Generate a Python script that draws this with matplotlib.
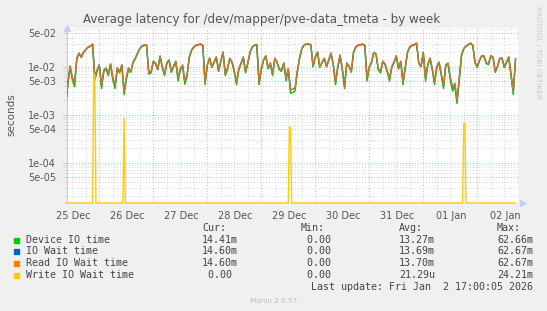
import numpy as np
import pandas as pd
import matplotlib
matplotlib.use("Agg")
import matplotlib.pyplot as plt
import matplotlib.dates as mdates
from matplotlib.ticker import FixedLocator, NullFormatter


# --------------------------------
# Data
# --------------------------------
# hourly samples starting at this time
sample_start = "2025-12-25 09:00"
sample_step = "1h"

device_io_time = [
    0.0014, 0.0040, 0.0100, 0.0053, 0.0038, 0.0145, 0.0188, 0.0155, 0.0197, 0.0224,
    0.0251, 0.0263, 0.0290, 0.0052, 0.0080, 0.0106, 0.0035, 0.0080, 0.0090, 0.0065,
    0.0110, 0.0052, 0.0035, 0.0091, 0.0074, 0.0106, 0.0026, 0.0052, 0.0090, 0.0076,
    0.0121, 0.0146, 0.0188, 0.0234, 0.0263, 0.0278, 0.0276, 0.0070, 0.0074, 0.0126,
    0.0115, 0.0086, 0.0162, 0.0096, 0.0065, 0.0116, 0.0134, 0.0076, 0.0099, 0.0126,
    0.0050, 0.0086, 0.0104, 0.0043, 0.0062, 0.0155, 0.0217, 0.0254, 0.0276, 0.0283,
    0.0290, 0.0273, 0.0042, 0.0106, 0.0147, 0.0096, 0.0121, 0.0155, 0.0080, 0.0126,
    0.0197, 0.0065, 0.0090, 0.0146, 0.0121, 0.0076, 0.0042, 0.0086, 0.0115, 0.0155,
    0.0074, 0.0116, 0.0197, 0.0254, 0.0276, 0.0283, 0.0042, 0.0086, 0.0134, 0.0165,
    0.0090, 0.0116, 0.0065, 0.0146, 0.0121, 0.0086, 0.0080, 0.0116, 0.0050, 0.0086,
    0.0028, 0.0029, 0.0031, 0.0076, 0.0147, 0.0234, 0.0276, 0.0293, 0.0290, 0.0283,
    0.0099, 0.0155, 0.0197, 0.0096, 0.0121, 0.0146, 0.0099, 0.0136, 0.0188, 0.0106,
    0.0042, 0.0096, 0.0170, 0.0086, 0.0035, 0.0116, 0.0099, 0.0076, 0.0197, 0.0254,
    0.0276, 0.0283, 0.0290, 0.0273, 0.0050, 0.0096, 0.0121, 0.0195, 0.0179, 0.0086,
    0.0074, 0.0126, 0.0110, 0.0076, 0.0050, 0.0096, 0.0121, 0.0165, 0.0090, 0.0126,
    0.0042, 0.0096, 0.0197, 0.0254, 0.0276, 0.0283, 0.0305, 0.0116, 0.0099, 0.0195,
    0.0050, 0.0106, 0.0147, 0.0086, 0.0042, 0.0096, 0.0121, 0.0065, 0.0035, 0.0106,
    0.0115, 0.0052, 0.0031, 0.0039, 0.0017, 0.0052, 0.0170, 0.0234, 0.0263, 0.0283,
    0.0305, 0.0273, 0.0121, 0.0096, 0.0134, 0.0165, 0.0162, 0.0116, 0.0110, 0.0165,
    0.0155, 0.0076, 0.0099, 0.0146, 0.0147, 0.0096, 0.0121, 0.0155, 0.0065, 0.0026,
    0.0144,
]

io_wait_time = [
    0.0016, 0.0045, 0.0103, 0.0060, 0.0044, 0.0150, 0.0193, 0.0160, 0.0202, 0.0230,
    0.0257, 0.0270, 0.0297, 0.0060, 0.0085, 0.0110, 0.0040, 0.0085, 0.0094, 0.0070,
    0.0114, 0.0060, 0.0040, 0.0095, 0.0078, 0.0110, 0.0030, 0.0060, 0.0094, 0.0080,
    0.0125, 0.0150, 0.0193, 0.0240, 0.0270, 0.0285, 0.0283, 0.0075, 0.0078, 0.0130,
    0.0119, 0.0090, 0.0167, 0.0100, 0.0070, 0.0120, 0.0138, 0.0080, 0.0103, 0.0130,
    0.0058, 0.0090, 0.0108, 0.0050, 0.0067, 0.0160, 0.0223, 0.0260, 0.0283, 0.0290,
    0.0297, 0.0280, 0.0048, 0.0110, 0.0152, 0.0100, 0.0125, 0.0160, 0.0085, 0.0130,
    0.0202, 0.0070, 0.0094, 0.0150, 0.0125, 0.0080, 0.0048, 0.0090, 0.0119, 0.0160,
    0.0078, 0.0120, 0.0202, 0.0260, 0.0283, 0.0290, 0.0048, 0.0090, 0.0138, 0.0170,
    0.0094, 0.0120, 0.0070, 0.0150, 0.0125, 0.0090, 0.0085, 0.0120, 0.0058, 0.0090,
    0.0033, 0.0034, 0.0036, 0.0080, 0.0152, 0.0240, 0.0283, 0.0300, 0.0297, 0.0290,
    0.0103, 0.0160, 0.0202, 0.0100, 0.0125, 0.0150, 0.0103, 0.0140, 0.0193, 0.0110,
    0.0048, 0.0100, 0.0175, 0.0090, 0.0040, 0.0120, 0.0103, 0.0080, 0.0202, 0.0260,
    0.0283, 0.0290, 0.0297, 0.0280, 0.0058, 0.0100, 0.0125, 0.0200, 0.0184, 0.0090,
    0.0078, 0.0130, 0.0114, 0.0080, 0.0058, 0.0100, 0.0125, 0.0170, 0.0094, 0.0130,
    0.0048, 0.0100, 0.0202, 0.0260, 0.0283, 0.0290, 0.0312, 0.0120, 0.0103, 0.0200,
    0.0058, 0.0110, 0.0152, 0.0090, 0.0048, 0.0100, 0.0125, 0.0070, 0.0040, 0.0110,
    0.0119, 0.0060, 0.0036, 0.0045, 0.0020, 0.0060, 0.0175, 0.0240, 0.0270, 0.0290,
    0.0312, 0.0280, 0.0125, 0.0100, 0.0138, 0.0170, 0.0167, 0.0120, 0.0114, 0.0170,
    0.0159, 0.0080, 0.0103, 0.0150, 0.0152, 0.0100, 0.0125, 0.0160, 0.0070, 0.0030,
    0.0146,
]

read_io_wait_time = [
    0.0016, 0.0045, 0.0103, 0.0060, 0.0044, 0.0150, 0.0193, 0.0160, 0.0202, 0.0230,
    0.0257, 0.0270, 0.0297, 0.0060, 0.0085, 0.0110, 0.0040, 0.0085, 0.0094, 0.0070,
    0.0114, 0.0060, 0.0040, 0.0095, 0.0078, 0.0110, 0.0030, 0.0060, 0.0094, 0.0080,
    0.0125, 0.0150, 0.0193, 0.0240, 0.0270, 0.0285, 0.0283, 0.0075, 0.0078, 0.0130,
    0.0119, 0.0090, 0.0167, 0.0100, 0.0070, 0.0120, 0.0138, 0.0080, 0.0103, 0.0130,
    0.0058, 0.0090, 0.0108, 0.0050, 0.0067, 0.0160, 0.0223, 0.0260, 0.0283, 0.0290,
    0.0297, 0.0280, 0.0048, 0.0110, 0.0152, 0.0100, 0.0125, 0.0160, 0.0085, 0.0130,
    0.0202, 0.0070, 0.0094, 0.0150, 0.0125, 0.0080, 0.0048, 0.0090, 0.0119, 0.0160,
    0.0078, 0.0120, 0.0202, 0.0260, 0.0283, 0.0290, 0.0048, 0.0090, 0.0138, 0.0170,
    0.0094, 0.0120, 0.0070, 0.0150, 0.0125, 0.0090, 0.0085, 0.0120, 0.0058, 0.0090,
    0.0033, 0.0034, 0.0036, 0.0080, 0.0152, 0.0240, 0.0283, 0.0300, 0.0297, 0.0290,
    0.0103, 0.0160, 0.0202, 0.0100, 0.0125, 0.0150, 0.0103, 0.0140, 0.0193, 0.0110,
    0.0048, 0.0100, 0.0175, 0.0090, 0.0040, 0.0120, 0.0103, 0.0080, 0.0202, 0.0260,
    0.0283, 0.0290, 0.0297, 0.0280, 0.0058, 0.0100, 0.0125, 0.0200, 0.0184, 0.0090,
    0.0078, 0.0130, 0.0114, 0.0080, 0.0058, 0.0100, 0.0125, 0.0170, 0.0094, 0.0130,
    0.0048, 0.0100, 0.0202, 0.0260, 0.0283, 0.0290, 0.0312, 0.0120, 0.0103, 0.0200,
    0.0058, 0.0110, 0.0152, 0.0090, 0.0048, 0.0100, 0.0125, 0.0070, 0.0040, 0.0110,
    0.0119, 0.0060, 0.0036, 0.0045, 0.0020, 0.0060, 0.0175, 0.0240, 0.0270, 0.0290,
    0.0312, 0.0280, 0.0125, 0.0100, 0.0138, 0.0170, 0.0167, 0.0120, 0.0114, 0.0170,
    0.0159, 0.0080, 0.0103, 0.0150, 0.0152, 0.0100, 0.0125, 0.0160, 0.0070, 0.0030,
    0.0146,
]

# write IO wait is zero except for a few short spikes (30 min samples)
write_spike_times = [
    "2025-12-25 21:30", "2025-12-25 22:00", "2025-12-26 11:00",
    "2025-12-29 12:30", "2025-12-29 13:00", "2026-01-01 18:00", "2026-01-01 18:30",
]
write_spike_values = [0.0068, 0.0068, 0.00085, 0.00055, 0.00055, 0.00067, 0.00067]

day_labels = ["25 Dec", "26 Dec", "27 Dec", "28 Dec", "29 Dec",
              "30 Dec", "31 Dec", "01 Jan", "02 Jan"]

legend_names = ["Device IO time", "IO Wait time", "Read IO Wait time", "Write IO Wait time"]
legend_cur = ["14.41m", "14.60m", "14.60m", " 0.00"]
legend_min = [" 0.00", " 0.00", " 0.00", " 0.00"]
legend_avg = ["13.27m", "13.69m", "13.70m", "21.29u"]
legend_max = ["62.66m", "62.67m", "62.67m", "24.21m"]

colors = ["#00CC00", "#0066B3", "#FF8000", "#FFCC00"]

y_min, y_max = 1.45e-05, 0.064
x_start = pd.Timestamp("2025-12-25 09:38")
x_end = pd.Timestamp("2026-01-02 18:06")


# --------------------------------
# Build series
# --------------------------------

times = pd.date_range(sample_start, periods=len(io_wait_time), freq=sample_step)

write_times = pd.date_range("2025-12-25 09:00", "2026-01-02 17:00", freq="30min")
write_series = pd.Series(0.0, index=write_times)
write_series[pd.to_datetime(write_spike_times)] = write_spike_values
# zeros are drawn on the bottom edge, like rrdtool does on a log scale
write_plot = write_series.clip(lower=y_min)


# --------------------------------
# Figure
# --------------------------------

W, H = 547, 311
fig = plt.figure(figsize=(W / 100, H / 100), dpi=100, facecolor="#F0F0F0")
ax = fig.add_axes([67 / W, 1 - 203 / H, (518 - 67) / W, (203 - 28) / H])
ax.set_facecolor("white")
ax.set_yscale("log")
ax.set_ylim(y_min, y_max)
ax.set_xlim(x_start, x_end)

grid_minor = dict(color="#D8D8D8", lw=0.7, ls=(0, (1, 2)), zorder=0)
grid_major = dict(color="#F0A8A8", lw=0.7, ls=(0, (1, 2)), zorder=0)

# vertical grid: every 6 hours grey, midnight red
for t in pd.date_range("2025-12-25 12:00", x_end, freq="6h"):
    ax.axvline(t, **(grid_major if t.hour == 0 else grid_minor))

# horizontal grid
major_y = [5e-05, 1e-04, 5e-04, 1e-03, 5e-03, 1e-02, 5e-02]
minor_y = [m * 10.0 ** e for e in range(-5, -1) for m in (2, 3, 4, 6, 7, 8, 9)]
minor_y = [v for v in minor_y if y_min < v < y_max]
for v in minor_y:
    ax.axhline(v, **grid_minor)
for v in major_y:
    ax.axhline(v, **grid_major)

ax.yaxis.set_major_locator(FixedLocator(major_y))
ax.yaxis.set_minor_locator(FixedLocator(minor_y))
ax.yaxis.set_minor_formatter(NullFormatter())
ax.set_yticklabels(["5e-05", "1e-04", "5e-04", "1e-03", "5e-03", "1e-02", "5e-02"])

label_pos = pd.date_range("2025-12-25 12:30", periods=len(day_labels), freq="D")
ax.set_xticks(label_pos)
ax.set_xticklabels(day_labels)
ax.xaxis.set_minor_locator(mdates.HourLocator(byhour=[0, 6, 12, 18]))

ax.tick_params(axis="x", which="both", length=0, labelsize=7, colors="#555555", pad=6)
ax.tick_params(axis="y", which="major", length=3, width=0.6, color="#F0A8A8",
               labelsize=7, labelcolor="#555555", pad=5)
ax.tick_params(axis="y", which="minor", length=3, width=0.6, color="#D8D8D8")

for side in ["top", "right", "bottom"]:
    ax.spines[side].set_visible(False)
ax.spines["left"].set_color("#C8C8EE")
ax.spines["left"].set_linewidth(0.8)

# axis arrows
ax.plot([0], [1.0], marker="^", ms=4, color="#C8D0F0", transform=ax.transAxes,
        clip_on=False)
ax.plot([1.01], [0], marker=">", ms=4, color="#C8D0F0", transform=ax.transAxes,
        clip_on=False)

# --------------------------------
# Lines
# --------------------------------

ax.plot(times, device_io_time, color=colors[0], lw=1.0, zorder=3)
ax.plot(times, io_wait_time, color=colors[1], lw=1.0, zorder=4)
ax.plot(times, read_io_wait_time, color=colors[2], lw=1.0, alpha=0.8, zorder=5)
ax.plot(write_plot.index, write_plot.values, color=colors[3], lw=1.0, zorder=6,
        clip_on=False)

# --------------------------------
# Texts
# --------------------------------

fig.text(261.7 / W, 1 - 20 / H, "Average latency for /dev/mapper/pve-data_tmeta - by week",
         ha="center", va="center", fontsize=8.6, color="#555555")
fig.text(11 / W, 1 - 115 / H, "seconds", rotation=90, ha="center", va="center",
         fontsize=7.5, color="#555555")
fig.text(538 / W, 1 - 52 / H, "RRDTOOL / TOBI OETIKER", rotation=270, ha="center",
         va="center", fontsize=5.2, color="#C8C8C8")

mono = dict(family="DejaVu Sans Mono", fontsize=7.2, color="#444444", va="center")
row_y = [240, 251.5, 263.5, 275.5]

fig.text(202.7 / W, 1 - 228.3 / H, "Cur:", **mono)
fig.text(300.7 / W, 1 - 228.3 / H, "Min:", **mono)
fig.text(399 / W, 1 - 228.3 / H, "Avg:", **mono)
fig.text(497 / W, 1 - 228.3 / H, "Max:", **mono)

for i, name in enumerate(legend_names):
    yy = 1 - row_y[i] / H
    fig.patches.append(plt.Rectangle((14 / W, yy - 2.5 / H), 5 / W, 5 / H,
                                     transform=fig.transFigure, color=colors[i]))
    fig.text(26 / W, yy, name, **mono)
    fig.text(201.7 / W, yy, legend_cur[i], **mono)
    fig.text(301 / W, yy, legend_min[i], **mono)
    fig.text(399 / W, yy, legend_avg[i], **mono)
    fig.text(497 / W, yy, legend_max[i], **mono)

fig.text(532.7 / W, 1 - 286.7 / H, "Last update: Fri Jan  2 17:00:05 2026",
         ha="right", **mono)
fig.text(273.3 / W, 1 - 300.7 / H, "Munin 2.0.57", ha="center", va="center",
         fontsize=5.2, color="#BBBBBB")

fig.savefig("out.png", dpi=100, facecolor=fig.get_facecolor())
